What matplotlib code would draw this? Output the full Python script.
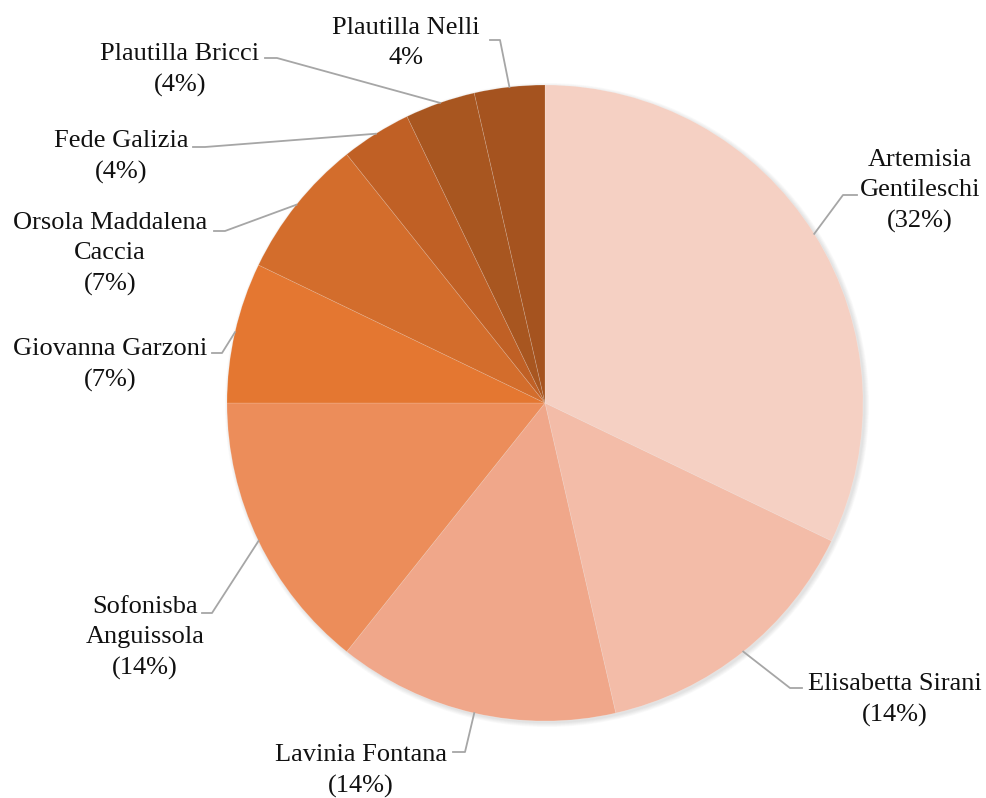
import matplotlib.pyplot as plt
import numpy as np
from matplotlib.patches import Circle

plt.rcParams['font.family'] = ['Liberation Serif', 'DejaVu Serif']

# number of works per painter
painters = ['Artemisia\nGentileschi', 'Elisabetta Sirani', 'Lavinia Fontana',
            'Sofonisba\nAnguissola', 'Giovanna Garzoni', 'Orsola Maddalena\nCaccia',
            'Fede Galizia', 'Plautilla Bricci', 'Plautilla Nelli']
counts = [9, 4, 4, 4, 2, 2, 1, 1, 1]
pct_fmt = ['({}%)'] * 8 + ['{}%']

colors = ['#F5D0C3', '#F3BCA8', '#F0A78A', '#EC8D5A', '#E47731',
          '#D36D2C', '#C06025', '#A85620', '#A5531F']

W, H = 986, 798
cx, cy, R = 545, 403, 318

# label layout in pixels from top-left: text centre, elbow of leader, end of leader
label_pos = [(920, 191), (895, 700), (361, 771), (145, 638), (110, 365),
             (110, 254), (121, 157), (180, 70), (406, 43)]
elbows = [(843, 195), (790, 688), (465, 752), (212, 613), (222, 353),
          (225, 231), (205, 147), (277, 58), (500, 40)]
ends = [(857, 195), (802, 688), (453, 752), (202, 613), (212, 353),
        (214, 231), (193, 147), (265, 58), (490, 40)]


def flip(p):
    return p[0], H - p[1]


fig = plt.figure(figsize=(W / 100, H / 100), dpi=100)
ax = fig.add_axes([0, 0, 1, 1])

# soft drop shadow behind the pie
for k in range(6):
    ax.add_patch(Circle((cx + 2, H - cy - 2), R + 0.8 * k, color='#808080',
                        alpha=0.04, lw=0, zorder=0))

ax.pie(counts, colors=colors, startangle=90, counterclock=False,
       center=(cx, H - cy), radius=R,
       wedgeprops=dict(edgecolor=(1, 1, 1, 0.2), linewidth=0.5))
ax.set_xlim(0, W)
ax.set_ylim(0, H)
ax.set_aspect('auto')
ax.axis('off')

total = sum(counts)
cum = np.cumsum([0] + counts[:-1])
for i, name in enumerate(painters):
    pct = round(100 * counts[i] / total)
    mid = 2 * np.pi * (cum[i] + counts[i] / 2) / total
    sx = cx + R * np.sin(mid)
    sy = H - (cy - R * np.cos(mid))
    ex, ey = flip(elbows[i])
    tx, ty = flip(ends[i])
    ax.plot([sx, ex, tx], [sy, ey, ty], color='#A6A6A6', lw=1.3, zorder=3)
    lx, ly = flip(label_pos[i])
    ax.text(lx, ly, name + '\n' + pct_fmt[i].format(pct), ha='center', va='center',
            fontsize=19, linespacing=1.5, color='#111111', multialignment='center')

fig.savefig('out.png', dpi=100)
